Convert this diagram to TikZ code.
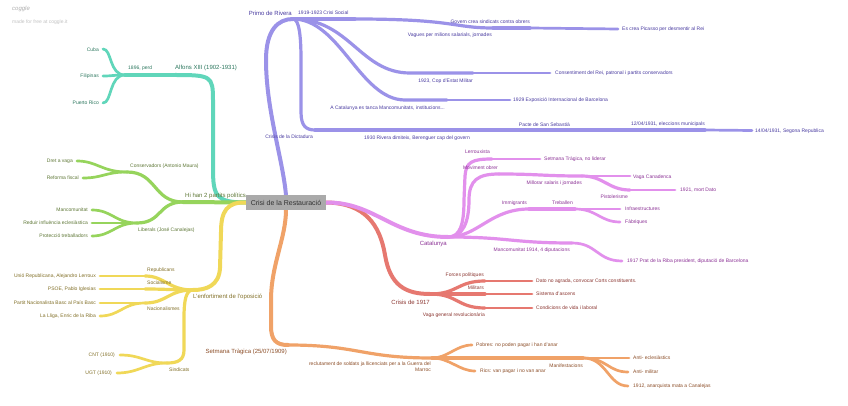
\documentclass[tikz,border=0pt]{standalone}
\usepackage{fontspec}
\setmainfont{Liberation Sans}
\usetikzlibrary{backgrounds}
\definecolor{tealL}{RGB}{96,214,186}
\definecolor{tealT}{RGB}{45,120,95}
\definecolor{purL}{RGB}{155,146,232}
\definecolor{purT}{RGB}{72,58,160}
\definecolor{grnL}{RGB}{150,212,92}
\definecolor{grnT}{RGB}{95,120,55}
\definecolor{yelL}{RGB}{240,216,88}
\definecolor{yelT}{RGB}{130,112,40}
\definecolor{orL}{RGB}{240,162,104}
\definecolor{orT}{RGB}{140,78,40}
\definecolor{redL}{RGB}{230,120,112}
\definecolor{redT}{RGB}{140,55,50}
\definecolor{pnkL}{RGB}{226,144,236}
\definecolor{pnkT}{RGB}{140,50,150}
\definecolor{rootG}{RGB}{170,170,170}
\definecolor{rootT}{RGB}{50,50,50}
\definecolor{wmA}{RGB}{175,175,175}
\definecolor{wmB}{RGB}{195,195,195}
\tikzset{
  mainbr/.style={line width=4pt, line cap=round},
  midbr/.style={line width=3.2pt, line cap=round},
  leafbr/.style={line width=2.7pt, line cap=round},
  lf/.style={font=\fontsize{5}{6}\selectfont, inner sep=0pt},
  ml/.style={font=\fontsize{6}{7.2}\selectfont, inner sep=0pt},
}
\begin{document}
\begin{tikzpicture}[x=1pt,y=-1pt]
\useasboundingbox (0,0) rectangle (848,406);

\node[anchor=west, font=\fontsize{6}{7}\selectfont\itshape, text=wmA, inner sep=0pt] (wm1) at (12,9) {coggle};
\node[anchor=west, lf, text=wmB] (wm2) at (12,22) {made for free at coggle.it};

\node[fill=rootG, text=rootT, font=\fontsize{7}{8.4}\selectfont, minimum width=80pt, minimum height=14pt, inner sep=0pt] (root) at (286,202.5) {Crisi de la Restauració};

% ---------------- coordinates
% teal
\coordinate (t1) at (213,168); \coordinate (t2) at (213,100);
\coordinate (alf) at (175,75); \coordinate (perd) at (125,75);
\coordinate (cuba) at (103,49); \coordinate (fil) at (103,76); \coordinate (prico) at (103,103);
% purple
\coordinate (p1) at (266,60);
\coordinate (pr) at (293,19); \coordinate (cs) at (355,19); \coordinate (vg) at (493,28);
\coordinate (gov) at (530,28); \coordinate (pic) at (618,29);
\coordinate (copA) at (410,73); \coordinate (cop) at (473,73); \coordinate (cons) at (550,73);
\coordinate (catA) at (405,100); \coordinate (cat1) at (447,100); \coordinate (expo) at (510,100);
\coordinate (d1) at (301,60); \coordinate (d2) at (301,112);
\coordinate (dict) at (315,130); \coordinate (dim) at (470,130); \coordinate (pacte) at (570,130);
\coordinate (elec) at (705,130); \coordinate (rep) at (752,130.5);
% green
\coordinate (hi) at (183,202); \coordinate (consv) at (127,172); \coordinate (dret) at (77,161);
\coordinate (refo) at (83,178); \coordinate (lib) at (137,223); \coordinate (manc) at (92,210);
\coordinate (redu) at (92,223); \coordinate (prot) at (92,236);
% yellow
\coordinate (y1) at (221,232); \coordinate (y2) at (220,268);
\coordinate (op) at (193,290); \coordinate (repub) at (145,276); \coordinate (unio) at (100,276);
\coordinate (soc) at (145,289); \coordinate (psoe) at (100,289); \coordinate (nac) at (145,303);
\coordinate (pnb) at (100,303); \coordinate (lliga) at (100,316);
\coordinate (s1) at (184,318); \coordinate (s2) at (184,350);
\coordinate (sind) at (167,363); \coordinate (cnt) at (120,355); \coordinate (ugt) at (117,373);
% orange
\coordinate (o1) at (271,300); \coordinate (o2) at (271,326);
\coordinate (st) at (288,345); \coordinate (recl) at (432,358); \coordinate (pob) at (472,345);
\coordinate (rics) at (475,371); \coordinate (manif) at (583,358); \coordinate (an1) at (629,358);
\coordinate (an2) at (628,372); \coordinate (c1912) at (628,386);
% red
\coordinate (r1) at (385,255);
\coordinate (c17) at (430,294); \coordinate (forc) at (485,281); \coordinate (mil) at (485,294);
\coordinate (vaga) at (485,308); \coordinate (dato) at (532,281); \coordinate (asc) at (532,294);
\coordinate (cond) at (532,308);
% pink
\coordinate (catn) at (448,237);
\coordinate (l1) at (464,200); \coordinate (l2) at (465,176);
\coordinate (m1) at (469,200);
\coordinate (lerr) at (492,159); \coordinate (setE) at (540,159);
\coordinate (mov) at (499,174); \coordinate (mill) at (582,176); \coordinate (vagaC) at (630,176);
\coordinate (pist) at (630,190); \coordinate (mortD) at (675,190);
\coordinate (imm) at (529,209); \coordinate (treb) at (575,209); \coordinate (infra) at (620,209);
\coordinate (fab) at (620,222); \coordinate (mancn) at (572,243); \coordinate (prat) at (622,261);

\begin{pgfonlayer}{background}
\fill[white] (0,0) rectangle (848,406);
% teal
\begin{scope}[draw=tealL]
\draw[mainbr] (root.west) .. controls +(-30,0) and +(0,28) .. (t1) -- (t2) .. controls +(0,-24) and +(36,0) .. (alf);
\draw[midbr] (alf) -- (perd);
\draw[leafbr] (perd) .. controls +(-16,0) and +(9,0) .. (cuba);
\draw[leafbr] (perd) .. controls +(-12,0) and +(10,0) .. (fil);
\draw[leafbr] (perd) .. controls +(-16,0) and +(9,0) .. (prico);
\end{scope}
% purple
\begin{scope}[draw=purL]
\draw[mainbr] (root.north) .. controls (283,160) and (266,110) .. (p1) .. controls (266,30) and (278,19) .. (pr);
\draw[midbr] (pr) -- (cs);
\draw[midbr] (cs) .. controls +(100,0) and +(-40,0) .. (vg);
\draw[midbr] (vg) -- (gov);
\draw[leafbr] (gov) -- (pic);
\draw[midbr] (pr) .. controls (350,19) and (360,73) .. (copA) -- (cop);
\draw[leafbr] (cop) -- (cons);
\draw[midbr] (pr) .. controls (340,19) and (360,100) .. (catA) -- (cat1);
\draw[leafbr] (cat1) -- (expo);
\draw[midbr] (pr) .. controls (299,19) and (301,35) .. (d1) -- (d2) .. controls (301,126) and (306,130) .. (dict);
\draw[midbr] (dict) -- (dim);
\draw[midbr] (dim) -- (pacte);
\draw[midbr] (pacte) -- (elec);
\draw[leafbr] (elec) -- (rep);
\end{scope}
% green
\begin{scope}[draw=grnL]
\draw[mainbr] (root.west) -- (hi);
\draw[midbr] (hi) .. controls +(-30,0) and +(30,0) .. (consv);
\draw[leafbr] (consv) .. controls +(-25,0) and +(20,0) .. (dret);
\draw[leafbr] (consv) .. controls +(-22,0) and +(20,0) .. (refo);
\draw[midbr] (hi) .. controls +(-25,0) and +(25,0) .. (lib);
\draw[leafbr] (lib) .. controls +(-22,0) and +(20,0) .. (manc);
\draw[leafbr] (lib) -- (redu);
\draw[leafbr] (lib) .. controls +(-22,0) and +(20,0) .. (prot);
\end{scope}
% yellow
\begin{scope}[draw=yelL]
\draw[mainbr] (root.west) .. controls (227,202) and (221,211) .. (y1) -- (y2) .. controls (219,286) and (206,290) .. (op);
\draw[midbr] (op) .. controls +(-25,0) and +(20,0) .. (repub);
\draw[leafbr] (repub) -- (unio);
\draw[midbr] (op) .. controls +(-20,0) and +(20,0) .. (soc);
\draw[leafbr] (soc) -- (psoe);
\draw[midbr] (op) .. controls +(-25,0) and +(22,0) .. (nac);
\draw[leafbr] (nac) -- (pnb);
\draw[leafbr] (nac) .. controls +(-22,0) and +(20,0) .. (lliga);
\draw[midbr] (op) .. controls (186,290) and (184,300) .. (s1) -- (s2) .. controls (184,360) and (178,363) .. (sind);
\draw[leafbr] (sind) .. controls +(-22,0) and +(22,0) .. (cnt);
\draw[leafbr] (sind) .. controls +(-22,0) and +(22,0) .. (ugt);
\end{scope}
% orange
\begin{scope}[draw=orL]
\draw[mainbr] (root.south) .. controls (286,238) and (271,265) .. (o1) -- (o2) .. controls (271,340) and (276,345) .. (st);
\draw[midbr] (st) .. controls +(70,0) and +(-70,0) .. (recl);
\draw[leafbr] (recl) .. controls +(16,0) and +(-16,0) .. (pob);
\draw[leafbr] (recl) .. controls +(18,0) and +(-16,0) .. (rics);
\draw[midbr] (recl) -- (manif);
\draw[leafbr] (manif) -- (an1);
\draw[leafbr] (manif) .. controls +(24,0) and +(-20,0) .. (an2);
\draw[leafbr] (manif) .. controls +(24,0) and +(-20,0) .. (c1912);
\end{scope}
% red
\begin{scope}[draw=redL]
\draw[mainbr] (root.east) .. controls (365,203) and (380,225) .. (r1) .. controls (390,285) and (405,294) .. (c17);
\draw[midbr] (c17) .. controls +(28,0) and +(-28,0) .. (forc);
\draw[midbr] (c17) -- (mil);
\draw[midbr] (c17) .. controls +(28,0) and +(-28,0) .. (vaga);
\draw[leafbr] (forc) -- (dato);
\draw[leafbr] (mil) -- (asc);
\draw[leafbr] (vaga) -- (cond);
\end{scope}
% pink
\begin{scope}[draw=pnkL]
\draw[mainbr] (root.east) .. controls (375,202) and (392,237) .. (catn);
\draw[midbr] (catn) .. controls (460,237) and (464,225) .. (l1) -- (l2) .. controls (466,162) and (472,159) .. (lerr);
\draw[leafbr] (lerr) -- (setE);
\draw[midbr] (catn) .. controls (463,237) and (469,222) .. (m1) .. controls (469,180) and (478,174) .. (mov);
\draw[midbr] (mov) .. controls +(40,0) and +(-40,0) .. (mill);
\draw[leafbr] (mill) -- (vagaC);
\draw[midbr] (mill) .. controls +(22,0) and +(-22,0) .. (pist);
\draw[leafbr] (pist) -- (mortD);
\draw[midbr] (catn) .. controls (478,237) and (490,209) .. (imm);
\draw[midbr] (imm) -- (treb);
\draw[leafbr] (treb) -- (infra);
\draw[leafbr] (treb) .. controls +(22,0) and +(-20,0) .. (fab);
\draw[midbr] (catn) .. controls +(60,0) and +(-60,0) .. (mancn);
\draw[leafbr] (mancn) .. controls +(25,0) and +(-25,0) .. (prat);
\end{scope}
\end{pgfonlayer}

% ---------------- labels
\begin{scope}[text=tealT]
\node[ml, anchor=west] (nAlf) at (175,68) {Alfons XIII (1902-1931)};
\node[lf, anchor=west] (nPerd) at (128,68.5) {1896, perd};
\node[lf, anchor=east] (nCuba) at (99,49.5) {Cuba};
\node[lf, anchor=east] (nFil) at (99,76) {Filipinas};
\node[lf, anchor=east] (nPR) at (99,103) {Puerto Rico};
\end{scope}

\begin{scope}[text=purT]
\node[ml, anchor=east] (nPrimo) at (292,13) {Primo de Rivera};
\node[lf, anchor=west] (nCS) at (298,13) {1919-1923 Crisi Social};
\node[lf, anchor=east] (nVag) at (492,35) {Vagues per milions salarials, jornades};
\node[lf, anchor=east] (nGov) at (530,22) {Govern crea sindicats contra obrers};
\node[lf, anchor=west] (nPic) at (622,29) {Es crea Picasso per desmentir al Rei};
\node[lf, anchor=east] (nCop) at (473,81) {1923, Cop d'Estat Militar};
\node[lf, anchor=west] (nCons) at (555,73) {Consentiment del Rei, patronal i partits conservadors};
\node[lf, anchor=east] (nCat1) at (445,108) {A Catalunya es tanca Mancomunitats, institucions...};
\node[lf, anchor=west] (nExpo) at (513,100) {1929 Exposició Internacional de Barcelona};
\node[lf, anchor=east] (nDict) at (313,136.5) {Crisis de la Dictadura};
\node[lf, anchor=east] (nDim) at (470,138) {1930 Rivera dimiteix, Berenguer cap del govern};
\node[lf, anchor=east] (nPacte) at (570,124.5) {Pacte de San Sebastià};
\node[lf, anchor=east] (nElec) at (705,124.5) {12/04/1931, eleccions municipals};
\node[lf, anchor=west] (nRep) at (755,131) {14/04/1931, Segona Republica};
\end{scope}

\begin{scope}[text=grnT]
\node[ml, anchor=west] (nHi) at (185,196) {Hi han 2 partits polítics};
\node[lf, anchor=west] (nConsv) at (130,166) {Conservadors (Antonio Maura)};
\node[lf, anchor=east] (nDret) at (73,161) {Dret a vaga};
\node[lf, anchor=east] (nRefo) at (79,178) {Reforma fiscal};
\node[lf, anchor=west] (nLib) at (138,230) {Liberals (José Canalejas)};
\node[lf, anchor=east] (nManc) at (88,210) {Mancomunitat};
\node[lf, anchor=east] (nRedu) at (88,223) {Reduir influència eclesiàstica};
\node[lf, anchor=east] (nProt) at (88,236) {Protecció treballadors};
\end{scope}

\begin{scope}[text=yelT]
\node[ml, anchor=west] (nOp) at (193,297) {L'enfortiment de l'oposició};
\node[lf, anchor=west] (nRepub) at (147,270) {Republicans};
\node[lf, anchor=east] (nUnio) at (96,276) {Unió Republicana, Alejandro Lerroux};
\node[lf, anchor=west] (nSoc) at (147,283) {Socialisme};
\node[lf, anchor=east] (nPsoe) at (96,289) {PSOE, Pablo Iglesias};
\node[lf, anchor=west] (nNac) at (147,309) {Nacionalismes};
\node[lf, anchor=east] (nPnb) at (96,303) {Partit Nacionalista Basc al País Basc};
\node[lf, anchor=east] (nLliga) at (96,316) {La Lliga, Enric de la Riba};
\node[lf, anchor=west] (nSind) at (169,370) {Sindicats};
\node[lf, anchor=east] (nCnt) at (115,355) {CNT (1910)};
\node[lf, anchor=east] (nUgt) at (112,373) {UGT (1910)};
\end{scope}

\begin{scope}[text=orT]
\node[ml, anchor=east] (nSt) at (287,352) {Setmana Tràgica (25/07/1909)};
\node[lf, anchor=north east, align=right] (nRecl) at (431,362) {reclutament de soldats ja llicenciats per a la Guerra del\\Marroc};
\node[lf, anchor=west] (nPob) at (476,345) {Pobres: no poden pagar i han d'anar};
\node[lf, anchor=west] (nRics) at (480,371) {Rics: van pagar i no van anar};
\node[lf, anchor=east] (nManif) at (583,366) {Manifestacions};
\node[lf, anchor=west] (nAn1) at (633,358) {Anti- eclesiàstics};
\node[lf, anchor=west] (nAn2) at (633,372) {Anti- militar};
\node[lf, anchor=west] (n1912) at (633,386) {1912, anarquista mata a Canalejas};
\end{scope}

\begin{scope}[text=redT]
\node[ml, anchor=east] (nC17) at (430,302) {Crisis de 1917};
\node[lf, anchor=east] (nForc) at (484,275) {Forces polítiques};
\node[lf, anchor=east] (nMil) at (484,288) {Militars};
\node[lf, anchor=east] (nVaga) at (485,315) {Vaga general revolucionària};
\node[lf, anchor=west] (nDato) at (536,281) {Dato no agrada, convocar Corts constituents.};
\node[lf, anchor=west] (nAsc) at (536,294) {Sistema d'ascens};
\node[lf, anchor=west] (nCond) at (536,308) {Condicions de vida i laboral};
\end{scope}

\begin{scope}[text=pnkT]
\node[ml, anchor=east] (nCatn) at (447,244) {Catalunya};
\node[lf, anchor=east] (nLerr) at (490,152) {Lerrouxista};
\node[lf, anchor=west] (nSetE) at (544,159) {Setmana Tràgica, no liderar};
\node[lf, anchor=east] (nMov) at (498,168) {Moviment obrer};
\node[lf, anchor=east] (nMill) at (582,183) {Millorar salaris i jornades};
\node[lf, anchor=west] (nVagaC) at (633,177) {Vaga Canadenca};
\node[lf, anchor=east] (nPist) at (628,197) {Pistolerisme};
\node[lf, anchor=west] (nMortD) at (680,190) {1921, mort Dato};
\node[lf, anchor=east] (nImm) at (527,203) {Immigrants};
\node[lf, anchor=east] (nTreb) at (573,203) {Treballen};
\node[lf, anchor=west] (nInfra) at (625,209) {Infraestructures};
\node[lf, anchor=west] (nFab) at (625,222) {Fàbriques};
\node[lf, anchor=east] (nMancn) at (570,250) {Mancomunitat 1914, 4 diputacions};
\node[lf, anchor=west] (nPrat) at (627,261) {1917 Prat de la Riba president, diputació de Barcelona};
\end{scope}
\end{tikzpicture}
\end{document}
